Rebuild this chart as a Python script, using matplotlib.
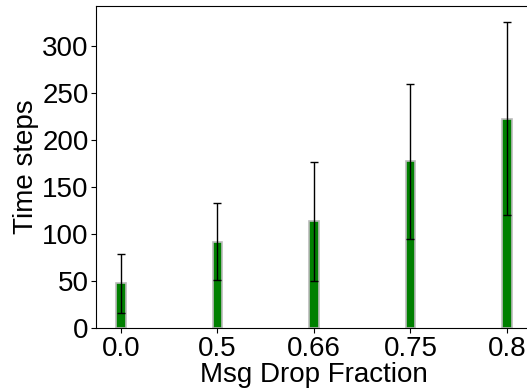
import matplotlib
matplotlib.use('Agg')
import matplotlib.pyplot as plt
import numpy as np

# message drop fraction categories
categories = ['0.0', '0.5', '0.66', '0.75', '0.8']
# mean time steps and std dev per category
mean_steps = [47.5, 92, 113.5, 177.5, 223]
std_steps = [31, 41, 63, 82.5, 103]

plt.rcParams['font.family'] = ['Liberation Sans', 'DejaVu Sans']

fig = plt.figure(figsize=(5.27, 3.92), dpi=100)
# axes runs a bit past the right edge, like the reference crop
ax = fig.add_axes([0.1827, 0.163, 0.826, 0.822])

x = np.arange(len(categories))
ax.bar(x, mean_steps, width=0.1, color='green', edgecolor='#bbbbbb', linewidth=1.2,
       yerr=std_steps, capsize=3.2, error_kw=dict(ecolor='black', elinewidth=1.0, capthick=1.0))

ax.set_xticks(x)
ax.set_xticklabels(categories)
ax.set_ylim(0, 343)
ax.set_yticks([0, 50, 100, 150, 200, 250, 300])
ax.tick_params(labelsize=20, pad=2)
ax.set_xlabel('Msg Drop Fraction', fontsize=20, labelpad=0)
ax.set_ylabel('Time steps', fontsize=20, labelpad=2)

fig.savefig('out.png', dpi=100)
